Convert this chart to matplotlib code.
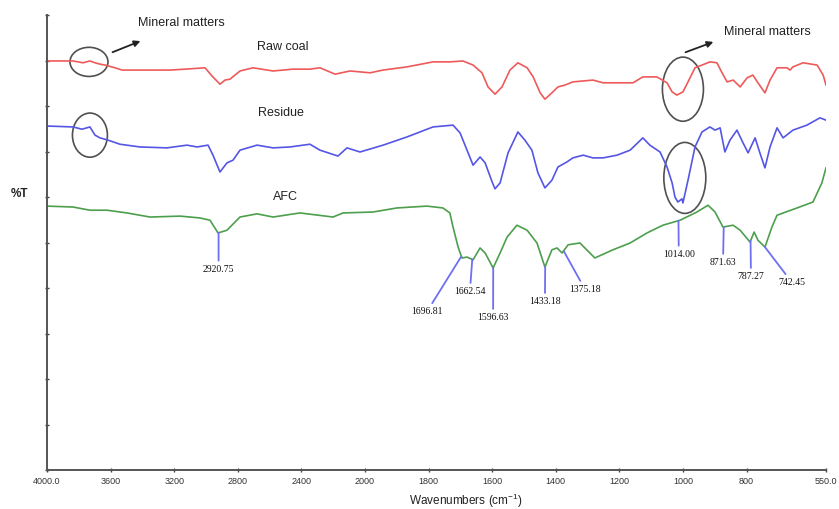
import numpy as np
import matplotlib.pyplot as plt
from matplotlib.patches import Ellipse

plt.rcParams['font.family'] = 'Liberation Sans'
plt.rcParams['mathtext.default'] = 'regular'

# FTIR spectra, wavenumber (cm-1) vs %T
raw_wn = [4000, 3836, 3773, 3730, 3698, 3667, 3635, 3572, 3528, 3226, 3132, 3006, 2962,
          2912, 2880, 2849, 2786, 2704, 2578, 2453, 2346, 2283, 2188, 2094, 1984, 1943,
          1868, 1786, 1733, 1692, 1660, 1632, 1613, 1591, 1569, 1544, 1519, 1490, 1471,
          1449, 1434, 1412, 1393, 1371, 1346, 1283, 1251, 1157, 1126, 1082, 1050, 1034,
          1019, 1000, 984, 962, 940, 915, 893, 877, 861, 842, 820, 798, 780, 764, 742,
          726, 704, 673, 663, 654, 622, 578, 559, 550]
raw_t = [89.9, 89.9, 89.5, 89.9, 89.5, 89.2, 89.0, 88.4, 87.9, 87.9, 88.1, 88.4, 86.6,
         84.8, 85.7, 85.9, 87.7, 88.4, 87.7, 88.1, 88.1, 88.4, 87.0, 87.7, 87.3, 87.9,
         88.6, 89.7, 89.7, 89.9, 89.0, 87.3, 84.2, 82.6, 84.2, 87.9, 89.5, 88.4, 86.4,
         82.9, 81.5, 82.9, 84.2, 84.6, 85.3, 85.7, 85.1, 85.1, 86.4, 86.4, 85.1, 83.1,
         82.4, 83.1, 85.3, 88.4, 89.0, 89.7, 89.5, 87.3, 85.3, 85.7, 84.2, 86.2, 86.8,
         85.1, 82.9, 85.7, 88.4, 88.4, 87.9, 88.6, 89.5, 89.0, 86.8, 84.6]

res_wn = [4000, 3836, 3780, 3730, 3698, 3667, 3616, 3541, 3415, 3245, 3119, 3056, 2987,
          2956, 2912, 2868, 2830, 2786, 2679, 2578, 2472, 2346, 2283, 2170, 2113, 2031,
          1943, 1868, 1786, 1723, 1701, 1679, 1660, 1638, 1622, 1600, 1591, 1575, 1550,
          1519, 1497, 1475, 1456, 1434, 1412, 1393, 1365, 1346, 1314, 1283, 1251, 1207,
          1166, 1126, 1104, 1072, 1050, 1034, 1025, 1016, 1003, 1000, 984, 962, 940,
          915, 899, 883, 868, 852, 830, 811, 795, 773, 758, 742, 726, 704, 685, 654,
          610, 569, 550]
res_t = [75.6, 75.4, 74.9, 75.4, 73.6, 73.0, 72.5, 71.6, 71.0, 70.8, 71.4, 71.0, 71.4,
         69.2, 65.5, 67.5, 68.1, 70.3, 71.4, 70.8, 71.0, 71.6, 70.3, 69.0, 70.8, 69.9,
         71.4, 73.2, 75.4, 75.8, 74.1, 70.3, 67.0, 68.8, 67.5, 63.3, 61.8, 63.1, 69.7,
         74.3, 72.5, 70.3, 65.3, 62.0, 63.7, 66.6, 67.7, 68.6, 69.2, 68.6, 68.6, 69.2,
         70.3, 73.0, 71.4, 69.9, 66.6, 63.1, 60.0, 58.9, 59.6, 58.7, 63.7, 71.0, 74.3,
         75.4, 74.7, 75.2, 69.9, 72.5, 74.7, 71.9, 69.7, 73.0, 69.7, 66.4, 71.0, 75.2,
         73.0, 74.7, 75.8, 77.4, 76.9]

afc_wn = [4000, 3836, 3730, 3623, 3497, 3352, 3163, 3038, 2975, 2924, 2868, 2786, 2679,
          2578, 2409, 2201, 2138, 1975, 1899, 1805, 1755, 1733, 1723, 1707, 1695, 1679,
          1660, 1638, 1622, 1597, 1575, 1553, 1522, 1490, 1459, 1434, 1412, 1396, 1380,
          1361, 1324, 1277, 1220, 1166, 1113, 1063, 1009, 956, 921, 899, 874, 842, 820,
          789, 776, 764, 742, 720, 704, 641, 591, 563, 550]
afc_t = [58.0, 57.8, 57.1, 57.1, 56.5, 55.6, 55.8, 55.4, 54.9, 52.1, 52.7, 55.6, 56.3,
         55.6, 56.5, 55.6, 56.5, 56.7, 57.6, 58.0, 57.6, 56.5, 53.4, 49.0, 46.6, 46.8,
         46.2, 48.8, 47.7, 44.4, 47.7, 51.2, 53.8, 52.7, 49.9, 44.6, 48.4, 48.8, 47.7,
         49.5, 49.9, 46.6, 48.4, 49.9, 52.1, 53.8, 54.9, 56.7, 58.2, 56.7, 53.4, 53.8,
         52.7, 50.1, 52.3, 50.5, 49.0, 53.4, 56.0, 57.6, 58.9, 63.1, 66.4]

# AFC band positions and where their labels sit
peak_wn = [2920.75, 1696.81, 1662.54, 1596.63, 1433.18, 1375.18, 1014.00, 871.63, 787.27, 742.45]
label_wn = [2920.75, 1805, 1670, 1597, 1434, 1308, 1013, 874, 786, 657]
label_t = [45.1, 35.8, 40.2, 34.5, 38.0, 40.7, 48.4, 46.6, 43.5, 42.2]

x_ticks = [4000, 3600, 3200, 2800, 2400, 2000, 1800, 1600, 1400, 1200, 1000, 800, 550]
x_ticklabels = ['4000.0', '3600', '3200', '2800', '2400', '2000', '1800', '1600',
                '1400', '1200', '1000', '800', '550.0']


def fwd(x):
    # 4000-2000 is drawn at half the scale of 2000-550
    x = np.asarray(x, dtype=float)
    return np.where(x >= 2000, (x - 2000) / 2.0, x - 2000)


def inv(u):
    u = np.asarray(u, dtype=float)
    return np.where(u >= 0, 2000 + 2.0 * u, 2000 + u)


fig = plt.figure(figsize=(8.39, 5.09), dpi=100)
ax = fig.add_axes([0.05602, 0.0766, 0.92849, 0.8939])
ax.set_xscale('function', functions=(fwd, inv))

ax.plot(raw_wn, raw_t, color='#ee5a5a', lw=1.2, solid_joinstyle='round')
ax.plot(res_wn, res_t, color='#5555e6', lw=1.2, solid_joinstyle='round')
ax.plot(afc_wn, afc_t, color='#4c9f4c', lw=1.2, solid_joinstyle='round')

ax.text(2679, 93.0, 'Raw coal', fontsize=9, va='center', color='#222222')
ax.text(2673, 78.5, 'Residue', fontsize=9, va='center', color='#222222')
ax.text(2578, 60.0, 'AFC', fontsize=9, va='center', color='#222222')

# band labels on the AFC trace
afc_x = np.array(afc_wn)[::-1]
afc_y = np.array(afc_t)[::-1]
for wn, lx, ly in zip(peak_wn, label_wn, label_t):
    y0 = np.interp(wn, afc_x, afc_y)
    ax.annotate(f'{wn:.2f}', xy=(wn, y0), xytext=(lx, ly), ha='center', va='top',
                fontsize=7, family='Liberation Serif', color='#111111',
                arrowprops=dict(arrowstyle='-', color='#6f6ff2', lw=1.3,
                                shrinkA=1, shrinkB=0))

# mineral matter regions
for (cx, cy, w, h) in [(3736, 89.7, 239, 6.4), (3730, 73.6, 220, 9.7),
                       (1000, 83.7, 129, 14.1), (994, 64.2, 132, 15.6)]:
    ax.add_patch(Ellipse((cx, cy), w, h, fill=False, ec='#505050', lw=1.2))

ax.annotate('', xy=(3396, 94.5), xytext=(3604, 91.6),
            arrowprops=dict(arrowstyle='-|>', color='#222222', lw=1.3, mutation_scale=9))
ax.annotate('', xy=(896, 94.3), xytext=(1000, 91.6),
            arrowprops=dict(arrowstyle='-|>', color='#222222', lw=1.3, mutation_scale=9))
ax.text(3428, 98.2, 'Mineral matters', fontsize=9, va='center', color='#222222')
ax.text(871, 96.3, 'Mineral matters', fontsize=9, va='center', color='#222222')

ax.set_xlim(4000, 550)
ax.set_ylim(0, 100)
ax.set_xticks(x_ticks)
ax.set_xticklabels(x_ticklabels)
ax.xaxis.set_minor_locator(plt.NullLocator())
ax.set_yticks(np.arange(0, 101, 10))
ax.set_yticklabels([])
ax.tick_params(direction='inout', length=3, width=1, colors='#444444',
               labelsize=6.5, labelcolor='#333333')

for side in ['top', 'right']:
    ax.spines[side].set_visible(False)
for side in ['left', 'bottom']:
    ax.spines[side].set_color('#555555')
    ax.spines[side].set_linewidth(1.4)

ax.set_xlabel('Wavenumbers (cm$^{-1}$)', fontsize=8.5, color='#222222', va='center')
ax.xaxis.set_label_coords(0.537, -0.068)
ax.set_ylabel('%T', rotation=0, fontsize=8.5, fontweight='bold', color='#222222',
              ha='center', va='center')
ax.yaxis.set_label_coords(-0.035, 0.607)

fig.savefig('out.png', dpi=100)
